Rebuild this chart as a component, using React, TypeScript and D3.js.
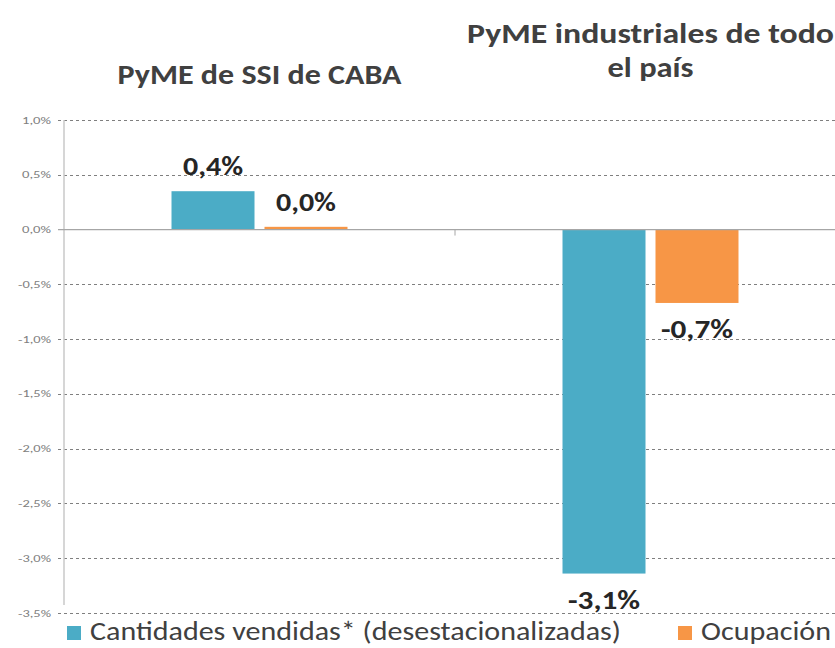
import React from "react";
import * as d3 from "d3";

const categories = ["PyME de SSI de CABA", "PyME industriales de todo el país"];
const categoryTitleLines = [["PyME de SSI de CABA"], ["PyME industriales de todo", "el país"]];
const seriesNames = ["Cantidades vendidas* (desestacionalizadas)", "Ocupación"];
const cantidadesVendidas = [0.35, -3.14];
const ocupacion = [0.025, -0.67];
const labelsCantidades = ["0,4%", "-3,1%"];
const labelsOcupacion = ["0,0%", "-0,7%"];
const yTicks = [1.0, 0.5, 0.0, -0.5, -1.0, -1.5, -2.0, -2.5, -3.0, -3.5];
const seriesColors = ["#4BACC6", "#F79646"];

const W = 835;
const H = 648;
const FONT = "Carlito, 'Liberation Sans Narrow', 'Open Sans', sans-serif";

export default function App() {
  const x0 = 64;
  const x1 = 846;
  const y = d3.scaleLinear().domain([1.0, -3.5]).range([120, 613]);
  const xCat = d3.scaleBand<number>().domain([0, 1]).range([x0, x1]).padding(0);
  const xSeries = d3
    .scaleBand<number>()
    .domain([0, 1])
    .range([0, xCat.bandwidth()])
    .paddingInner(0.1075)
    .paddingOuter(1.156);

  const series = [cantidadesVendidas, ocupacion];
  const labels = [labelsCantidades, labelsOcupacion];
  const fmt = (v: number) => v.toFixed(1).replace(".", ",") + "%";

  const titleWidths = [[284], [367, 86]];
  const titleBaselines = [[84], [43, 77]];

  return (
    <svg
      width={W}
      height={H}
      style={{ position: "absolute", left: 0, top: 0, background: "#fff" }}
    >
      <rect x={0} y={0} width={W} height={H} fill="#fff" />
      {/* gridlines */}
      {yTicks.map((t) =>
        t === 0 ? null : (
          <line
            key={"g" + t}
            x1={x0 - 6}
            x2={W}
            y1={Math.round(y(t)) + 0.5}
            y2={Math.round(y(t)) + 0.5}
            stroke="#7f7f7f"
            strokeWidth={1}
            strokeDasharray="3,3"
          />
        )
      )}
      {/* y axis */}
      <line x1={x0} x2={x0} y1={y(1.0)} y2={y(-3.5) - 8} stroke="#c9c9c9" strokeWidth={1.5} />
      {/* tick labels */}
      {yTicks.map((t) => {
        const s = fmt(t);
        return (
          <text
            key={"t" + t}
            x={51}
            y={y(t) + 3.5}
            textAnchor="end"
            fontFamily={FONT}
            fontSize={9.5}
            fill="#808080"
            textLength={s.startsWith("-") ? 33 : 29}
            lengthAdjust="spacingAndGlyphs"
          >
            {s}
          </text>
        );
      })}
      {/* bars */}
      {categories.map((c, ci) =>
        series.map((s, si) => {
          const v = s[ci];
          const bx = (xCat(ci) as number) + (xSeries(si) as number);
          const top = y(Math.max(0, v));
          const bot = y(Math.min(0, v));
          return (
            <rect
              key={c + si}
              x={bx}
              y={top}
              width={xSeries.bandwidth()}
              height={bot - top}
              fill={seriesColors[si]}
            />
          );
        })
      )}
      {/* zero line */}
      <line x1={x0 - 6} x2={W} y1={y(0)} y2={y(0)} stroke="#a6a6a6" strokeWidth={1.2} />
      <line
        x1={xCat(1) as number}
        x2={xCat(1) as number}
        y1={y(0)}
        y2={y(0) + 6}
        stroke="#a6a6a6"
        strokeWidth={1}
      />
      {/* data labels */}
      {categories.map((c, ci) =>
        series.map((s, si) => {
          const v = s[ci];
          const txt = labels[si][ci];
          const cx = (xCat(ci) as number) + (xSeries(si) as number) + xSeries.bandwidth() / 2;
          const ly = v >= 0 ? y(v) - 16 : y(v) + 35;
          return (
            <text
              key={"l" + c + si}
              x={cx}
              y={ly}
              textAnchor="middle"
              fontFamily={FONT}
              fontWeight="bold"
              fontSize={27}
              fill="#262626"
              textLength={txt.startsWith("-") ? 72 : 60}
              lengthAdjust="spacingAndGlyphs"
            >
              {txt}
            </text>
          );
        })
      )}
      {/* titles */}
      {categoryTitleLines.map((lines, ci) =>
        lines.map((ln, li) => (
          <text
            key={"ti" + ci + li}
            x={(xCat(ci) as number) + xCat.bandwidth() / 2}
            y={titleBaselines[ci][li]}
            textAnchor="middle"
            fontFamily={FONT}
            fontWeight="bold"
            fontSize={29}
            fill="#404040"
            textLength={titleWidths[ci][li]}
            lengthAdjust="spacingAndGlyphs"
          >
            {ln}
          </text>
        ))
      )}
      {/* legend */}
      {seriesNames.map((n, si) => {
        const lx = [67, 678][si];
        const tw = [531, 130][si];
        return (
          <g key={"lg" + si}>
            <rect x={lx} y={626} width={14} height={14} fill={seriesColors[si]} />
            <text
              x={lx + 23}
              y={640}
              fontFamily={FONT}
              fontSize={27}
              fill="#404040"
              textLength={tw}
              lengthAdjust="spacingAndGlyphs"
            >
              {n}
            </text>
          </g>
        );
      })}
    </svg>
  );
}
